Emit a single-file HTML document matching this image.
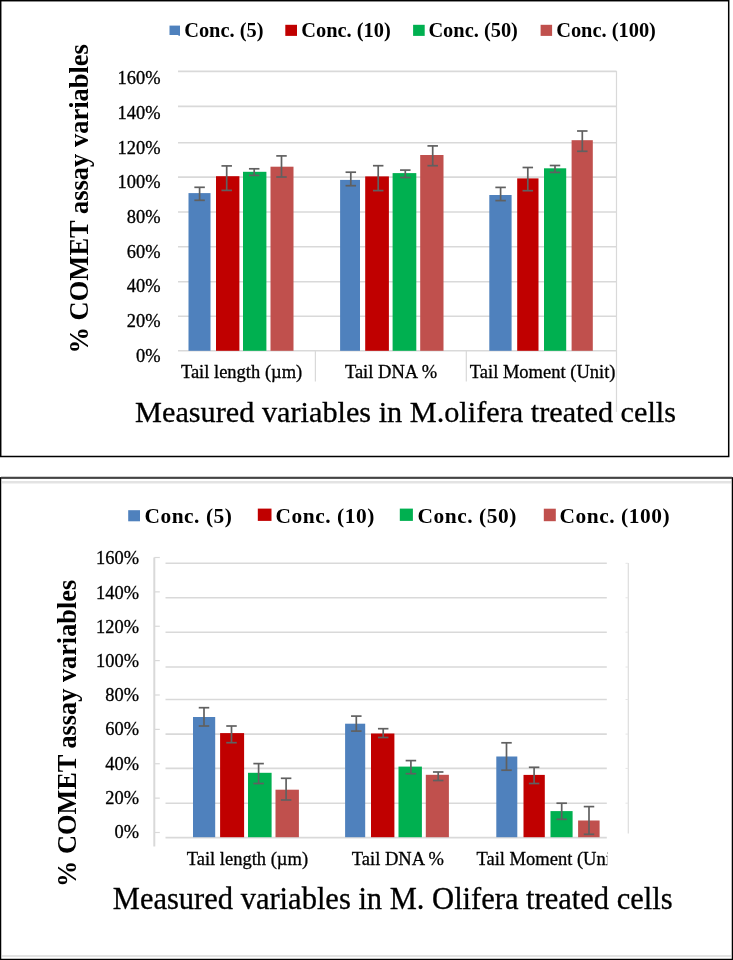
<!DOCTYPE html>
<html><head><meta charset="utf-8"><style>
html,body{margin:0;padding:0;background:#fff;width:733px;height:960px;overflow:hidden}
svg{display:block;filter:blur(0.4px)}
text{font-family:"Liberation Serif", serif}
text.r{stroke:#000;stroke-width:0.3px}
</style></head><body>
<svg width="733" height="960" viewBox="0 0 733 960">
<rect x="0" y="0" width="733" height="960" fill="#fff"/>
<rect x="0.7" y="0.7" width="728" height="455.8" fill="none" stroke="#000" stroke-width="1.5"/>
<rect x="169.50" y="25.60" width="10.50" height="9.40" fill="#4F81BD"/>
<text x="184.20" y="37.00" font-size="20.4" font-weight="bold" text-anchor="start" fill="#000" >Conc. (5)</text>
<rect x="285.30" y="24.80" width="11.70" height="11.10" fill="#C00000"/>
<text x="301.30" y="37.00" font-size="20.4" font-weight="bold" text-anchor="start" fill="#000" >Conc. (10)</text>
<rect x="413.10" y="24.80" width="11.60" height="11.10" fill="#00B050"/>
<text x="428.40" y="37.00" font-size="20.4" font-weight="bold" text-anchor="start" fill="#000" >Conc. (50)</text>
<rect x="540.60" y="24.80" width="11.50" height="11.10" fill="#C0504D"/>
<text x="556.20" y="37.00" font-size="20.4" font-weight="bold" text-anchor="start" fill="#000" >Conc. (100)</text>
<rect x="178.40" y="34.20" width="1.60" height="1.60" fill="#4F81BD"/>
<line x1="178.00" y1="71.40" x2="616.50" y2="71.40" stroke="#d9d9d9" stroke-width="1.6"/>
<line x1="178.00" y1="106.40" x2="616.50" y2="106.40" stroke="#d9d9d9" stroke-width="1.6"/>
<line x1="178.00" y1="142.70" x2="616.50" y2="142.70" stroke="#d9d9d9" stroke-width="1.6"/>
<line x1="178.00" y1="177.10" x2="616.50" y2="177.10" stroke="#d9d9d9" stroke-width="1.6"/>
<line x1="178.00" y1="212.00" x2="616.50" y2="212.00" stroke="#d9d9d9" stroke-width="1.6"/>
<line x1="178.00" y1="246.70" x2="616.50" y2="246.70" stroke="#d9d9d9" stroke-width="1.6"/>
<line x1="178.00" y1="281.70" x2="616.50" y2="281.70" stroke="#d9d9d9" stroke-width="1.6"/>
<line x1="178.00" y1="316.30" x2="616.50" y2="316.30" stroke="#d9d9d9" stroke-width="1.6"/>
<line x1="616.50" y1="71.00" x2="616.50" y2="412.00" stroke="#d9d9d9" stroke-width="1.2"/>
<line x1="178.00" y1="350.80" x2="616.50" y2="350.80" stroke="#d9d9d9" stroke-width="1.6"/>
<line x1="315.40" y1="350.80" x2="315.40" y2="381.50" stroke="#d9d9d9" stroke-width="1.2"/>
<line x1="466.30" y1="350.80" x2="466.30" y2="381.50" stroke="#d9d9d9" stroke-width="1.2"/>
<text class="r" x="160.50" y="84.40" font-size="18.4" font-weight="normal" text-anchor="end" fill="#000" >160%</text>
<text class="r" x="160.50" y="119.06" font-size="18.4" font-weight="normal" text-anchor="end" fill="#000" >140%</text>
<text class="r" x="160.50" y="153.72" font-size="18.4" font-weight="normal" text-anchor="end" fill="#000" >120%</text>
<text class="r" x="160.50" y="188.38" font-size="18.4" font-weight="normal" text-anchor="end" fill="#000" >100%</text>
<text class="r" x="160.50" y="223.04" font-size="18.4" font-weight="normal" text-anchor="end" fill="#000" >80%</text>
<text class="r" x="160.50" y="257.70" font-size="18.4" font-weight="normal" text-anchor="end" fill="#000" >60%</text>
<text class="r" x="160.50" y="292.36" font-size="18.4" font-weight="normal" text-anchor="end" fill="#000" >40%</text>
<text class="r" x="160.50" y="327.02" font-size="18.4" font-weight="normal" text-anchor="end" fill="#000" >20%</text>
<text class="r" x="160.50" y="361.68" font-size="18.4" font-weight="normal" text-anchor="end" fill="#000" >0%</text>
<rect x="188.50" y="193.10" width="22.00" height="157.70" fill="#4F81BD"/>
<rect x="216.00" y="176.20" width="23.40" height="174.60" fill="#C00000"/>
<rect x="243.00" y="171.80" width="23.40" height="179.00" fill="#00B050"/>
<rect x="270.50" y="166.70" width="23.00" height="184.10" fill="#C0504D"/>
<rect x="340.10" y="179.90" width="19.90" height="170.90" fill="#4F81BD"/>
<rect x="365.20" y="176.40" width="23.70" height="174.40" fill="#C00000"/>
<rect x="392.60" y="173.10" width="23.70" height="177.70" fill="#00B050"/>
<rect x="420.20" y="155.00" width="23.30" height="195.80" fill="#C0504D"/>
<rect x="489.30" y="195.00" width="22.30" height="155.80" fill="#4F81BD"/>
<rect x="517.20" y="178.40" width="21.30" height="172.40" fill="#C00000"/>
<rect x="544.00" y="168.30" width="22.20" height="182.50" fill="#00B050"/>
<rect x="571.60" y="140.20" width="21.20" height="210.60" fill="#C0504D"/>
<line x1="199.60" y1="187.30" x2="199.60" y2="200.30" stroke="#606060" stroke-width="1.7"/>
<line x1="194.35" y1="187.30" x2="204.85" y2="187.30" stroke="#606060" stroke-width="1.7"/>
<line x1="194.35" y1="200.30" x2="204.85" y2="200.30" stroke="#606060" stroke-width="1.7"/>
<line x1="226.70" y1="165.90" x2="226.70" y2="190.40" stroke="#606060" stroke-width="1.7"/>
<line x1="221.45" y1="165.90" x2="231.95" y2="165.90" stroke="#606060" stroke-width="1.7"/>
<line x1="221.45" y1="190.40" x2="231.95" y2="190.40" stroke="#606060" stroke-width="1.7"/>
<line x1="254.20" y1="168.80" x2="254.20" y2="175.40" stroke="#606060" stroke-width="1.7"/>
<line x1="248.95" y1="168.80" x2="259.45" y2="168.80" stroke="#606060" stroke-width="1.7"/>
<line x1="248.95" y1="175.40" x2="259.45" y2="175.40" stroke="#606060" stroke-width="1.7"/>
<line x1="281.50" y1="155.90" x2="281.50" y2="177.00" stroke="#606060" stroke-width="1.7"/>
<line x1="276.25" y1="155.90" x2="286.75" y2="155.90" stroke="#606060" stroke-width="1.7"/>
<line x1="276.25" y1="177.00" x2="286.75" y2="177.00" stroke="#606060" stroke-width="1.7"/>
<line x1="350.80" y1="172.20" x2="350.80" y2="185.70" stroke="#606060" stroke-width="1.7"/>
<line x1="345.55" y1="172.20" x2="356.05" y2="172.20" stroke="#606060" stroke-width="1.7"/>
<line x1="345.55" y1="185.70" x2="356.05" y2="185.70" stroke="#606060" stroke-width="1.7"/>
<line x1="378.20" y1="165.70" x2="378.20" y2="190.60" stroke="#606060" stroke-width="1.7"/>
<line x1="372.95" y1="165.70" x2="383.45" y2="165.70" stroke="#606060" stroke-width="1.7"/>
<line x1="372.95" y1="190.60" x2="383.45" y2="190.60" stroke="#606060" stroke-width="1.7"/>
<line x1="405.30" y1="170.10" x2="405.30" y2="177.50" stroke="#606060" stroke-width="1.7"/>
<line x1="400.05" y1="170.10" x2="410.55" y2="170.10" stroke="#606060" stroke-width="1.7"/>
<line x1="400.05" y1="177.50" x2="410.55" y2="177.50" stroke="#606060" stroke-width="1.7"/>
<line x1="432.70" y1="145.90" x2="432.70" y2="165.70" stroke="#606060" stroke-width="1.7"/>
<line x1="427.45" y1="145.90" x2="437.95" y2="145.90" stroke="#606060" stroke-width="1.7"/>
<line x1="427.45" y1="165.70" x2="437.95" y2="165.70" stroke="#606060" stroke-width="1.7"/>
<line x1="500.60" y1="187.40" x2="500.60" y2="200.60" stroke="#606060" stroke-width="1.7"/>
<line x1="495.35" y1="187.40" x2="505.85" y2="187.40" stroke="#606060" stroke-width="1.7"/>
<line x1="495.35" y1="200.60" x2="505.85" y2="200.60" stroke="#606060" stroke-width="1.7"/>
<line x1="527.80" y1="167.50" x2="527.80" y2="190.70" stroke="#606060" stroke-width="1.7"/>
<line x1="522.55" y1="167.50" x2="533.05" y2="167.50" stroke="#606060" stroke-width="1.7"/>
<line x1="522.55" y1="190.70" x2="533.05" y2="190.70" stroke="#606060" stroke-width="1.7"/>
<line x1="555.00" y1="165.50" x2="555.00" y2="172.40" stroke="#606060" stroke-width="1.7"/>
<line x1="549.75" y1="165.50" x2="560.25" y2="165.50" stroke="#606060" stroke-width="1.7"/>
<line x1="549.75" y1="172.40" x2="560.25" y2="172.40" stroke="#606060" stroke-width="1.7"/>
<line x1="582.30" y1="131.00" x2="582.30" y2="151.30" stroke="#606060" stroke-width="1.7"/>
<line x1="577.05" y1="131.00" x2="587.55" y2="131.00" stroke="#606060" stroke-width="1.7"/>
<line x1="577.05" y1="151.30" x2="587.55" y2="151.30" stroke="#606060" stroke-width="1.7"/>
<text class="r" x="180.90" y="377.70" font-size="18.5" font-weight="normal" text-anchor="start" fill="#000" >Tail length (µm)</text>
<text class="r" x="344.90" y="377.70" font-size="18.5" font-weight="normal" text-anchor="start" fill="#000" >Tail DNA %</text>
<text class="r" x="469.80" y="377.70" font-size="18.5" font-weight="normal" text-anchor="start" fill="#000" >Tail Moment (Unit)</text>
<text transform="translate(88,350.5) rotate(-90)" x="-3" y="0" font-size="26.5" font-weight="bold">% COMET assay variables</text>
<text class="r" x="135.10" y="422.30" font-size="30.25" font-weight="normal" text-anchor="start" fill="#000" >Measured variables in M.olifera treated cells</text>
<rect x="0.6" y="477.8" width="731.8" height="481.6" fill="none" stroke="#000" stroke-width="1.3"/>
<line x1="1.00" y1="477.80" x2="732.00" y2="477.80" stroke="#444" stroke-width="1.9"/>
<line x1="2.00" y1="482.30" x2="731.00" y2="482.30" stroke="#e3e3e3" stroke-width="2.5"/>
<line x1="2.00" y1="955.90" x2="731.00" y2="955.90" stroke="#e3e3e3" stroke-width="2"/>
<rect x="128.20" y="510.20" width="11.80" height="11.10" fill="#4F81BD"/>
<text x="144.40" y="523.00" font-size="21.4" font-weight="bold" text-anchor="start" fill="#000" letter-spacing="0.55">Conc. (5)</text>
<rect x="257.80" y="508.60" width="13.70" height="12.30" fill="#C00000"/>
<text x="275.60" y="523.00" font-size="21.4" font-weight="bold" text-anchor="start" fill="#000" letter-spacing="0.55">Conc. (10)</text>
<rect x="399.80" y="508.60" width="13.10" height="12.30" fill="#00B050"/>
<text x="417.60" y="523.00" font-size="21.4" font-weight="bold" text-anchor="start" fill="#000" letter-spacing="0.55">Conc. (50)</text>
<rect x="543.80" y="508.70" width="12.00" height="12.50" fill="#C0504D"/>
<text x="559.60" y="523.00" font-size="21.4" font-weight="bold" text-anchor="start" fill="#000" letter-spacing="0.55">Conc. (100)</text>
<line x1="154.30" y1="557.50" x2="154.30" y2="846.60" stroke="#d9d9d9" stroke-width="2"/>
<line x1="154.30" y1="557.50" x2="159.80" y2="557.50" stroke="#d9d9d9" stroke-width="1.2"/>
<line x1="154.30" y1="591.88" x2="159.80" y2="591.88" stroke="#d9d9d9" stroke-width="1.2"/>
<line x1="154.30" y1="626.25" x2="159.80" y2="626.25" stroke="#d9d9d9" stroke-width="1.2"/>
<line x1="154.30" y1="660.62" x2="159.80" y2="660.62" stroke="#d9d9d9" stroke-width="1.2"/>
<line x1="154.30" y1="695.00" x2="159.80" y2="695.00" stroke="#d9d9d9" stroke-width="1.2"/>
<line x1="154.30" y1="729.38" x2="159.80" y2="729.38" stroke="#d9d9d9" stroke-width="1.2"/>
<line x1="154.30" y1="763.75" x2="159.80" y2="763.75" stroke="#d9d9d9" stroke-width="1.2"/>
<line x1="154.30" y1="798.12" x2="159.80" y2="798.12" stroke="#d9d9d9" stroke-width="1.2"/>
<line x1="154.30" y1="832.50" x2="159.80" y2="832.50" stroke="#d9d9d9" stroke-width="1.2"/>
<line x1="165.50" y1="563.30" x2="606.80" y2="563.30" stroke="#d9d9d9" stroke-width="1.6"/>
<line x1="165.50" y1="597.80" x2="606.80" y2="597.80" stroke="#d9d9d9" stroke-width="1.6"/>
<line x1="165.50" y1="632.20" x2="606.80" y2="632.20" stroke="#d9d9d9" stroke-width="1.6"/>
<line x1="165.50" y1="667.00" x2="606.80" y2="667.00" stroke="#d9d9d9" stroke-width="1.6"/>
<line x1="165.50" y1="699.50" x2="606.80" y2="699.50" stroke="#d9d9d9" stroke-width="1.6"/>
<line x1="165.50" y1="734.10" x2="606.80" y2="734.10" stroke="#d9d9d9" stroke-width="1.6"/>
<line x1="165.50" y1="768.40" x2="606.80" y2="768.40" stroke="#d9d9d9" stroke-width="1.6"/>
<line x1="165.50" y1="803.20" x2="606.80" y2="803.20" stroke="#d9d9d9" stroke-width="1.6"/>
<line x1="165.50" y1="837.60" x2="606.80" y2="837.60" stroke="#d9d9d9" stroke-width="1.6"/>
<line x1="628.30" y1="563.00" x2="628.30" y2="833.50" stroke="#dddddd" stroke-width="1.2"/>
<line x1="625.50" y1="563.30" x2="628.30" y2="563.30" stroke="#e6e6e6" stroke-width="1"/>
<line x1="625.50" y1="597.80" x2="628.30" y2="597.80" stroke="#e6e6e6" stroke-width="1"/>
<line x1="625.50" y1="632.20" x2="628.30" y2="632.20" stroke="#e6e6e6" stroke-width="1"/>
<line x1="625.50" y1="667.00" x2="628.30" y2="667.00" stroke="#e6e6e6" stroke-width="1"/>
<line x1="625.50" y1="699.50" x2="628.30" y2="699.50" stroke="#e6e6e6" stroke-width="1"/>
<line x1="625.50" y1="734.10" x2="628.30" y2="734.10" stroke="#e6e6e6" stroke-width="1"/>
<line x1="625.50" y1="768.40" x2="628.30" y2="768.40" stroke="#e6e6e6" stroke-width="1"/>
<line x1="625.50" y1="803.20" x2="628.30" y2="803.20" stroke="#e6e6e6" stroke-width="1"/>
<text class="r" x="139.00" y="564.40" font-size="18.4" font-weight="normal" text-anchor="end" fill="#000" >160%</text>
<text class="r" x="139.00" y="598.60" font-size="18.4" font-weight="normal" text-anchor="end" fill="#000" >140%</text>
<text class="r" x="139.00" y="632.80" font-size="18.4" font-weight="normal" text-anchor="end" fill="#000" >120%</text>
<text class="r" x="139.00" y="667.00" font-size="18.4" font-weight="normal" text-anchor="end" fill="#000" >100%</text>
<text class="r" x="139.00" y="701.20" font-size="18.4" font-weight="normal" text-anchor="end" fill="#000" >80%</text>
<text class="r" x="139.00" y="735.40" font-size="18.4" font-weight="normal" text-anchor="end" fill="#000" >60%</text>
<text class="r" x="139.00" y="769.60" font-size="18.4" font-weight="normal" text-anchor="end" fill="#000" >40%</text>
<text class="r" x="139.00" y="803.80" font-size="18.4" font-weight="normal" text-anchor="end" fill="#000" >20%</text>
<text class="r" x="139.00" y="838.00" font-size="18.4" font-weight="normal" text-anchor="end" fill="#000" >0%</text>
<rect x="193.00" y="717.00" width="22.20" height="120.20" fill="#4F81BD"/>
<rect x="220.10" y="733.10" width="24.00" height="104.10" fill="#C00000"/>
<rect x="248.00" y="772.80" width="23.60" height="64.40" fill="#00B050"/>
<rect x="275.50" y="789.70" width="23.40" height="47.50" fill="#C0504D"/>
<rect x="345.10" y="723.70" width="20.10" height="113.50" fill="#4F81BD"/>
<rect x="371.00" y="733.50" width="23.40" height="103.70" fill="#C00000"/>
<rect x="398.50" y="766.60" width="23.40" height="70.60" fill="#00B050"/>
<rect x="425.80" y="774.80" width="23.10" height="62.40" fill="#C0504D"/>
<rect x="496.30" y="756.50" width="21.00" height="80.70" fill="#4F81BD"/>
<rect x="523.50" y="774.90" width="21.30" height="62.30" fill="#C00000"/>
<rect x="550.50" y="811.10" width="22.10" height="26.10" fill="#00B050"/>
<rect x="578.10" y="820.50" width="21.50" height="16.70" fill="#C0504D"/>
<line x1="204.00" y1="707.70" x2="204.00" y2="726.00" stroke="#606060" stroke-width="1.7"/>
<line x1="198.75" y1="707.70" x2="209.25" y2="707.70" stroke="#606060" stroke-width="1.7"/>
<line x1="198.75" y1="726.00" x2="209.25" y2="726.00" stroke="#606060" stroke-width="1.7"/>
<line x1="231.50" y1="726.00" x2="231.50" y2="742.70" stroke="#606060" stroke-width="1.7"/>
<line x1="226.25" y1="726.00" x2="236.75" y2="726.00" stroke="#606060" stroke-width="1.7"/>
<line x1="226.25" y1="742.70" x2="236.75" y2="742.70" stroke="#606060" stroke-width="1.7"/>
<line x1="258.60" y1="763.60" x2="258.60" y2="783.50" stroke="#606060" stroke-width="1.7"/>
<line x1="253.35" y1="763.60" x2="263.85" y2="763.60" stroke="#606060" stroke-width="1.7"/>
<line x1="253.35" y1="783.50" x2="263.85" y2="783.50" stroke="#606060" stroke-width="1.7"/>
<line x1="286.10" y1="778.30" x2="286.10" y2="800.00" stroke="#606060" stroke-width="1.7"/>
<line x1="280.85" y1="778.30" x2="291.35" y2="778.30" stroke="#606060" stroke-width="1.7"/>
<line x1="280.85" y1="800.00" x2="291.35" y2="800.00" stroke="#606060" stroke-width="1.7"/>
<line x1="356.30" y1="716.10" x2="356.30" y2="731.10" stroke="#606060" stroke-width="1.7"/>
<line x1="351.05" y1="716.10" x2="361.55" y2="716.10" stroke="#606060" stroke-width="1.7"/>
<line x1="351.05" y1="731.10" x2="361.55" y2="731.10" stroke="#606060" stroke-width="1.7"/>
<line x1="383.20" y1="728.70" x2="383.20" y2="737.50" stroke="#606060" stroke-width="1.7"/>
<line x1="377.95" y1="728.70" x2="388.45" y2="728.70" stroke="#606060" stroke-width="1.7"/>
<line x1="377.95" y1="737.50" x2="388.45" y2="737.50" stroke="#606060" stroke-width="1.7"/>
<line x1="410.90" y1="760.60" x2="410.90" y2="773.70" stroke="#606060" stroke-width="1.7"/>
<line x1="405.65" y1="760.60" x2="416.15" y2="760.60" stroke="#606060" stroke-width="1.7"/>
<line x1="405.65" y1="773.70" x2="416.15" y2="773.70" stroke="#606060" stroke-width="1.7"/>
<line x1="438.20" y1="772.00" x2="438.20" y2="780.50" stroke="#606060" stroke-width="1.7"/>
<line x1="432.95" y1="772.00" x2="443.45" y2="772.00" stroke="#606060" stroke-width="1.7"/>
<line x1="432.95" y1="780.50" x2="443.45" y2="780.50" stroke="#606060" stroke-width="1.7"/>
<line x1="506.50" y1="742.80" x2="506.50" y2="770.20" stroke="#606060" stroke-width="1.7"/>
<line x1="501.25" y1="742.80" x2="511.75" y2="742.80" stroke="#606060" stroke-width="1.7"/>
<line x1="501.25" y1="770.20" x2="511.75" y2="770.20" stroke="#606060" stroke-width="1.7"/>
<line x1="534.10" y1="767.30" x2="534.10" y2="783.50" stroke="#606060" stroke-width="1.7"/>
<line x1="528.85" y1="767.30" x2="539.35" y2="767.30" stroke="#606060" stroke-width="1.7"/>
<line x1="528.85" y1="783.50" x2="539.35" y2="783.50" stroke="#606060" stroke-width="1.7"/>
<line x1="561.70" y1="803.20" x2="561.70" y2="819.30" stroke="#606060" stroke-width="1.7"/>
<line x1="556.45" y1="803.20" x2="566.95" y2="803.20" stroke="#606060" stroke-width="1.7"/>
<line x1="556.45" y1="819.30" x2="566.95" y2="819.30" stroke="#606060" stroke-width="1.7"/>
<line x1="589.00" y1="806.60" x2="589.00" y2="834.30" stroke="#606060" stroke-width="1.7"/>
<line x1="583.75" y1="806.60" x2="594.25" y2="806.60" stroke="#606060" stroke-width="1.7"/>
<line x1="583.75" y1="834.30" x2="594.25" y2="834.30" stroke="#606060" stroke-width="1.7"/>
<text class="r" x="186.70" y="864.50" font-size="18.5" font-weight="normal" text-anchor="start" fill="#000" >Tail length (µm)</text>
<text class="r" x="351.80" y="864.50" font-size="18.5" font-weight="normal" text-anchor="start" fill="#000" >Tail DNA %</text>
<clipPath id="c3"><rect x="0" y="840" width="607.3" height="40"/></clipPath>
<text class="r" x="476.50" y="864.50" font-size="18.5" font-weight="normal" text-anchor="start" fill="#000" clip-path="url(#c3)">Tail Moment (Unit)</text>
<text transform="translate(76.0,883.9) rotate(-90)" x="-3" y="0" font-size="26.3" font-weight="bold">% COMET assay variables</text>
<text class="r" x="112.80" y="908.90" font-size="30.5" font-weight="normal" text-anchor="start" fill="#000" >Measured variables in M. Olifera treated cells</text>
</svg>
</body></html>
